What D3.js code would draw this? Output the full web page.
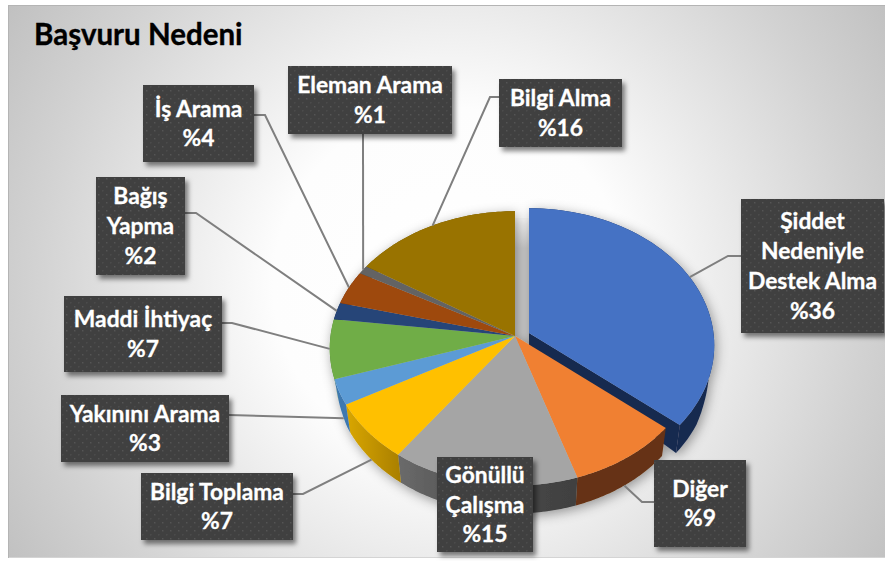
<!DOCTYPE html>
<html><head><meta charset="utf-8">
<script src="https://cdnjs.cloudflare.com/ajax/libs/d3/7.8.5/d3.min.js"></script>
<style>html,body{margin:0;padding:0;background:#fff}svg{display:block}text{font-family:Lato,"Open Sans",sans-serif;font-weight:700}</style>
</head><body><div id="c"></div>
<script>
const titleText = "Başvuru Nedeni";
const categories = ["Şiddet Nedeniyle Destek Alma","Diğer","Gönüllü Çalışma","Bilgi Toplama","Yakınını Arama","Maddi İhtiyaç","Bağış Yapma","İş Arama","Eleman Arama","Bilgi Alma"];
const values = [36,9,15,7,3,7,2,4,1,16];
const labelLines = [["Şiddet","Nedeniyle","Destek Alma"],["Diğer"],["Gönüllü","Çalışma"],["Bilgi Toplama"],["Yakınını Arama"],["Maddi İhtiyaç"],["Bağış","Yapma"],["İş Arama"],["Eleman Arama"],["Bilgi Alma"]];
const topColors = ["#4472c4","#f08033","#a5a5a5","#ffc000","#5b9bd5","#70ad47","#264478","#9e480e","#636363","#997300"];
const sideColors = ["#182a50","#663312","url(#sideGray)","url(#sideYellow)","#3d78b0","#4c7a30","#1a2f52","#6a3009","#444","#665000"];
// label box layout [x0,y0,x1,y1]
const boxes = [[741,199,884,333],[654,460,746,547],[437,457,533,552],[141,473,293,540],[61,395,229,462],[64,296,222,372],[96,177,185,275],[143,85,254,162],[288,66,452,134],[499,79,622,147]];
// leader layout: elbow points from box, and whether it ends on the lower rim
const leaderElbows = [[[741,256],[728,256]],[[654,502],[642,502]],null,[[293,494],[303,494]],[[229,415]],[[222,323],[232,323]],[[185,213],[196,213]],[[254,115],[265,115]],[[363,134]],[[499,97],[490,97]]];
const leaderLow = [false,true,false,true,true,false,false,false,false,false];

const W=885,H=561;
const svg=d3.select("#c").append("svg").attr("width",W).attr("height",H);
const defs=svg.append("defs");
const bg=defs.append("radialGradient").attr("id","bg").attr("gradientUnits","userSpaceOnUse").attr("cx",450).attr("cy",285).attr("r",520);
bg.append("stop").attr("offset","0").attr("stop-color","#ffffff");
bg.append("stop").attr("offset","0.34").attr("stop-color","#fdfdfd");
bg.append("stop").attr("offset","0.8").attr("stop-color","#d2d2d2");
bg.append("stop").attr("offset","1").attr("stop-color","#c1c1c1");
const g1=defs.append("linearGradient").attr("id","sideGray").attr("gradientUnits","userSpaceOnUse").attr("x1",400).attr("x2",580).attr("y1",0).attr("y2",0);
g1.append("stop").attr("offset","0").attr("stop-color","#6a6a6a");
g1.append("stop").attr("offset","0.5").attr("stop-color","#4a4a4a");
g1.append("stop").attr("offset","1").attr("stop-color","#404040");
const g2=defs.append("linearGradient").attr("id","sideYellow").attr("gradientUnits","userSpaceOnUse").attr("x1",350).attr("x2",402).attr("y1",0).attr("y2",0);
g2.append("stop").attr("offset","0").attr("stop-color","#d6a400");
g2.append("stop").attr("offset","1").attr("stop-color","#a87e00");
const gg=defs.append("linearGradient").attr("id","gapFill").attr("gradientUnits","userSpaceOnUse").attr("x1",0).attr("x2",0).attr("y1",220).attr("y2",248);
gg.append("stop").attr("offset","0").attr("stop-color","#f8f8f8");
gg.append("stop").attr("offset","1").attr("stop-color","#cbcbcb");
const pat=defs.append("pattern").attr("id","dots").attr("patternUnits","userSpaceOnUse").attr("width",8).attr("height",8);
pat.append("rect").attr("width",8).attr("height",8).attr("fill","#3f3f3f");
pat.append("rect").attr("x",2).attr("y",2).attr("width",1.5).attr("height",1.5).attr("fill","#545454");
pat.append("rect").attr("x",6).attr("y",6).attr("width",1.5).attr("height",1.5).attr("fill","#4c4c4c");
const fb=defs.append("filter").attr("id","boxSh").attr("x","-20%").attr("y","-20%").attr("width","140%").attr("height","140%");
fb.append("feDropShadow").attr("dx",3).attr("dy",4).attr("stdDeviation",2.5).attr("flood-color","#000").attr("flood-opacity",.5);
const fp=defs.append("filter").attr("id","pieSh").attr("x","-20%").attr("y","-20%").attr("width","140%").attr("height","140%");
fp.append("feDropShadow").attr("dx",2).attr("dy",3).attr("stdDeviation",6).attr("flood-color","#000").attr("flood-opacity",.38);

svg.append("rect").attr("x",8).attr("y",5).attr("width",877).attr("height",553).attr("fill","url(#bg)");
svg.append("rect").attr("x",8).attr("y",5).attr("width",877).attr("height",1).attr("fill","#b4b4b4");
svg.append("rect").attr("x",8).attr("y",557).attr("width",877).attr("height",1).attr("fill","#d4d4d4");
svg.append("rect").attr("x",8).attr("y",5).attr("width",1).attr("height",553).attr("fill","#b4b4b4");
svg.append("text").attr("x",34).attr("y",45).attr("font-size",29.5).attr("fill","#000").attr("stroke","#000").attr("stroke-width",0.35).text(titleText);

const cx=515,cy=336,a=184.5,b=136,k=0.09,rimShrink=0.975;
const project=(t,r=1)=>{const u=r*Math.sin(t),v=r*Math.cos(t),d=1+k*v;return [cx+a*u/d,cy-b*v/d];};
const depth=t=>{const v=Math.cos(t);return 13+15*Math.min(1,Math.max(0,-v/0.45));};
const pie=d3.pie().sort(null).value(d=>d)(values);
const offs=i=>i===0?[14,-3]:[0,0];
const line=d3.line();
const samples=(d,n=60)=>d3.range(n+1).map(i=>d.startAngle+(d.endAngle-d.startAngle)*i/n);
const upper=(t,i)=>{const o=offs(i),p=project(t);return [p[0]+o[0],p[1]+o[1]];};
const lower=(t,i)=>{const o=offs(i),p=project(t);return [cx+o[0]+(p[0]-cx)*rimShrink,p[1]+o[1]+depth(t)];};

function topPath(d,i){const o=offs(i);
  return line([[cx+o[0],cy+o[1]]].concat(samples(d).map(t=>upper(t,i))))+"Z";}
function sidePath(d,i){const ts=samples(d);
  return line(ts.map(t=>upper(t,i)).concat(ts.slice().reverse().map(t=>lower(t,i))))+"Z";}
function cutPath(i){const d=pie[i],o=offs(i),c=[cx+o[0],cy+o[1]];
  return line([c,upper(d.endAngle,i),lower(d.endAngle,i),[c[0],c[1]+13]])+"Z";}

svg.append("rect").attr("x",cx-1).attr("y",218).attr("width",offs(0)[0]+2).attr("height",cy-218+14).attr("fill","url(#gapFill)");
const gp=svg.append("g").attr("filter","url(#pieSh)");
gp.append("path").attr("d",sidePath(pie[0],0)).attr("fill",sideColors[0]);
gp.append("path").attr("d",cutPath(0)).attr("fill",sideColors[0]);
gp.append("path").attr("d",topPath(pie[0],0)).attr("fill",topColors[0]);
gp.selectAll("path.side").data(pie.slice(1)).join("path").attr("class","side").attr("d",(d,i)=>sidePath(d,i+1)).attr("fill",(d,i)=>sideColors[i+1]);
gp.selectAll("path.top").data(pie.slice(1)).join("path").attr("class","top").attr("d",(d,i)=>topPath(d,i+1)).attr("fill",(d,i)=>topColors[i+1]);

// leaders
pie.forEach((d,i)=>{
  if(!leaderElbows[i])return;
  const m=(d.startAngle+d.endAngle)/2;
  const end=leaderLow[i]?lower(m,i):upper(m,i);
  svg.append("path").attr("d",line(leaderElbows[i].concat([end]))).attr("fill","none").attr("stroke","#7f7f7f").attr("stroke-width",2);
});

// labels
const fs=22.8,lh=29.7;
pie.forEach((d,i)=>{
  const [x0,y0,x1,y1]=boxes[i];
  const g=svg.append("g");
  g.append("rect").attr("x",x0).attr("y",y0).attr("width",x1-x0).attr("height",y1-y0).attr("fill","url(#dots)").attr("filter","url(#boxSh)");
  const lines=labelLines[i].concat(["%"+values[i]]);
  lines.forEach((s,j)=>{
    g.append("text").attr("x",(x0+x1)/2).attr("y",(y0+y1)/2+(j-(lines.length-1)/2)*lh+8)
     .attr("text-anchor","middle").attr("font-size",fs).attr("fill","#fff").attr("stroke","#fff").attr("stroke-width",0.3).text(s);
  });
});
</script></body></html>
